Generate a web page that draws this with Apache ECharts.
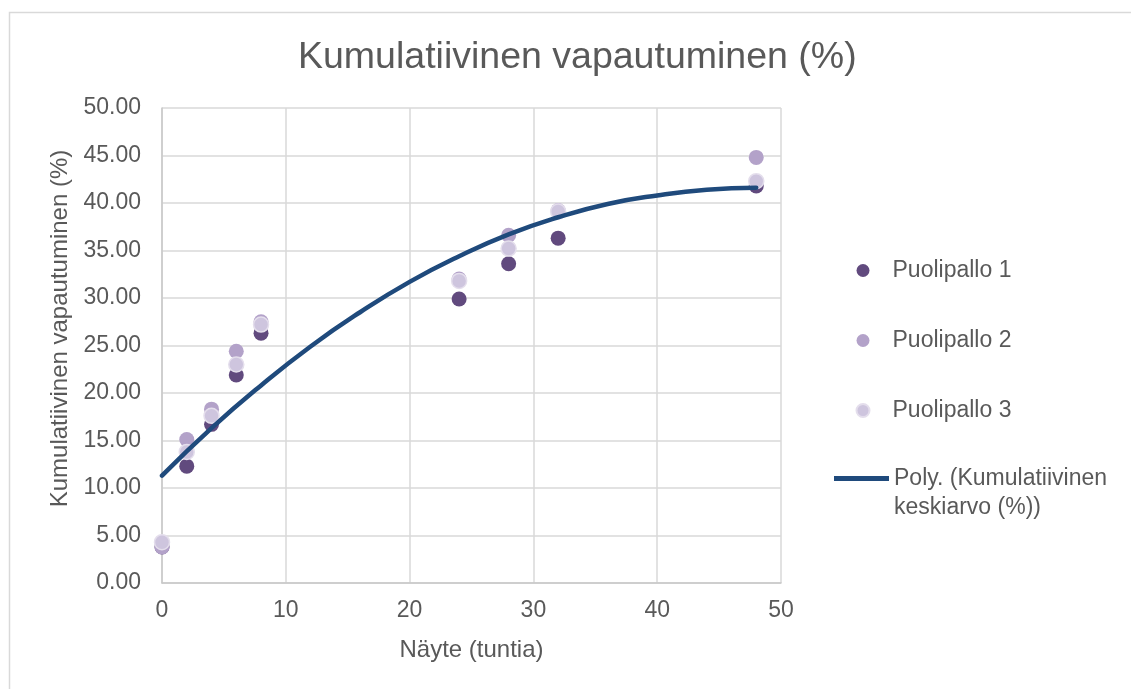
<!DOCTYPE html>
<html>
<head>
<meta charset="utf-8">
<script src="https://cdn.jsdelivr.net/npm/echarts@6/dist/echarts.min.js"></script>
<style>
  html, body { margin: 0; padding: 0; background: #fff; }
  #chart { width: 1131px; height: 689px; }
</style>
</head>
<body>
<div id="chart"></div>
<script>
// mittausajat (tuntia)
var hours = [0, 2, 4, 6, 8, 24, 28, 32, 48];
var puolipallo1 = [3.8, 12.3, 16.7, 21.9, 26.3, 29.9, 33.6, 36.3, 41.8];
var puolipallo2 = [3.8, 15.1, 18.3, 24.4, 27.5, 32.0, 36.6, 39.2, 44.8];
var puolipallo3 = [4.3, 13.8, 17.6, 23.0, 27.2, 31.8, 35.2, 39.1, 42.3];

// trendiviiva luettu kuvasta
var trendHours = [0, 4, 8, 12, 16, 20, 24, 28, 32, 36, 40, 44, 48];
var trendValues = [11.3, 16.3, 20.8, 24.9, 28.5, 31.7, 34.4, 36.7, 38.5, 39.9, 40.8, 41.4, 41.6];

var seriesNames = ['Puolipallo 1', 'Puolipallo 2', 'Puolipallo 3'];
var trendName = 'Poly. (Kumulatiivinen\nkeskiarvo (%))';

function pairs(xs, ys) {
  return xs.map(function (x, i) { return [x, ys[i]]; });
}

var font = '"Liberation Sans", Arial, sans-serif';
var textColor = '#595959';

var chart = echarts.init(document.getElementById('chart'));

var option = {
  backgroundColor: '#fff',
  animation: false,
  graphic: [{
    type: 'rect',
    shape: { x: 9.5, y: 12.5, width: 1200, height: 800 },
    style: { fill: 'none', stroke: '#D9D9D9', lineWidth: 1.5 },
    silent: true
  }],
  title: {
    text: 'Kumulatiivinen vapautuminen (%)',
    left: 293,
    top: 34,
    textStyle: { fontFamily: font, fontSize: 37.5, fontWeight: 'normal', color: textColor }
  },
  grid: { left: 162, right: 350, top: 108, bottom: 106, containLabel: false },
  xAxis: {
    type: 'value',
    min: 0, max: 50, interval: 10,
    name: 'Näyte (tuntia)',
    nameLocation: 'middle',
    nameGap: 55,
    nameTextStyle: { fontFamily: font, fontSize: 24, color: textColor },
    axisLine: { show: true, lineStyle: { color: '#C8C8C8', width: 1.5 } },
    axisTick: { show: false },
    axisLabel: { margin: 16, fontFamily: font, fontSize: 23, color: textColor },
    splitLine: { show: true, lineStyle: { color: '#D9D9D9', width: 1.5 } }
  },
  yAxis: {
    type: 'value',
    min: 0, max: 50, interval: 5,
    name: 'Kumulatiivinen vapautuminen (%)',
    nameLocation: 'middle',
    nameGap: 86,
    nameTextStyle: { fontFamily: font, fontSize: 24, color: textColor, padding: [0, 0, 0, 34] },
    axisLine: { show: true, lineStyle: { color: '#C8C8C8', width: 1.5 } },
    axisTick: { show: false },
    axisLabel: {
      margin: 21, fontFamily: font, fontSize: 23, color: textColor,
      formatter: function (v) { return v.toFixed(2); }
    },
    splitLine: { show: true, lineStyle: { color: '#D9D9D9', width: 1.5 } }
  },
  legend: [{
    data: seriesNames.map(function (n) { return { name: n, icon: 'circle' }; }),
    orient: 'vertical',
    left: 855.5,
    top: 258.5,
    padding: 0,
    itemWidth: 13,
    itemHeight: 13,
    itemGap: 46,
    formatter: function (n) { return '{t|' + n + '}'; },
    textStyle: {
      fontFamily: font, fontSize: 23, color: textColor, lineHeight: 24,
      rich: { t: { fontFamily: font, fontSize: 23, color: textColor, lineHeight: 24, padding: [0, 0, 0, 18] } }
    }
  }, {
    data: [{ name: trendName, icon: 'rect' }],
    orient: 'vertical',
    left: 834,
    top: 435,
    padding: 0,
    itemWidth: 55,
    itemHeight: 5,
    formatter: function (n) { return '\n' + n; },
    textStyle: { fontFamily: font, fontSize: 23, color: textColor, lineHeight: 29 }
  }],
  series: [{
    name: seriesNames[0],
    type: 'scatter',
    symbolSize: 15,
    itemStyle: { color: '#614A7E', opacity: 1 },
    data: pairs(hours, puolipallo1),
    z: 2
  }, {
    name: seriesNames[1],
    type: 'scatter',
    symbolSize: 15,
    itemStyle: { color: '#B3A2C9', opacity: 1 },
    data: pairs(hours, puolipallo2),
    z: 3
  }, {
    name: seriesNames[2],
    type: 'scatter',
    symbolSize: 15,
    itemStyle: { color: '#CEC5DE', borderColor: '#E4DEEC', borderWidth: 1.5, opacity: 1 },
    data: pairs(hours, puolipallo3),
    z: 4
  }, {
    name: trendName,
    type: 'line',
    smooth: true,
    symbol: 'none',
    lineStyle: { color: '#1F4A7C', width: 4.5, cap: 'round' },
    itemStyle: { color: '#1F4A7C' },
    data: pairs(trendHours, trendValues),
    z: 5
  }]
};

chart.setOption(option);
</script>
</body>
</html>
